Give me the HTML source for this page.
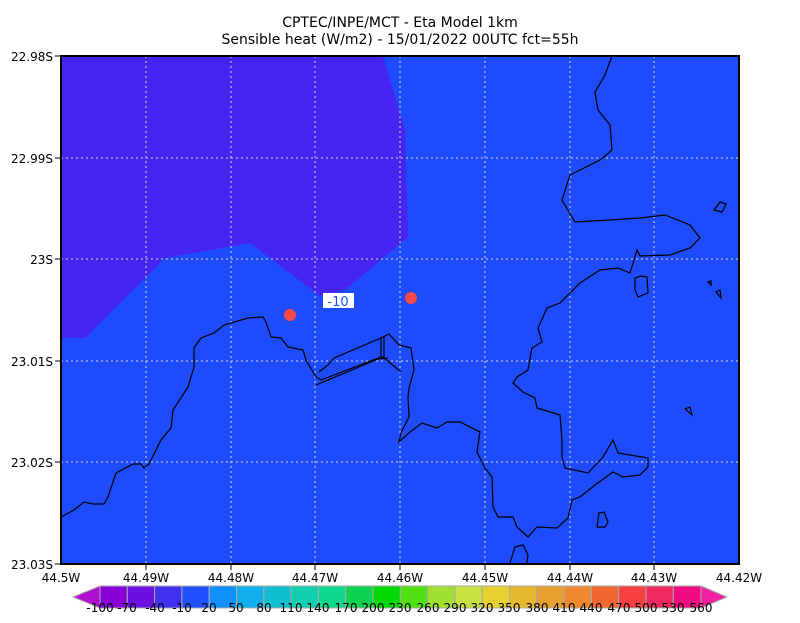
<!DOCTYPE html>
<html><head><style>
body{margin:0;background:#fff;}
svg text{font-family:"DejaVu Sans","Liberation Sans",sans-serif;}
</style></head><body>
<svg width="800" height="618" xmlns="http://www.w3.org/2000/svg">
<rect width="800" height="618" fill="#fff"/>
<text x="400" y="27" font-size="14" text-anchor="middle">CPTEC/INPE/MCT -  Eta Model 1km</text>
<text x="400" y="44" font-size="14" text-anchor="middle">Sensible heat (W/m2) - 15/01/2022 00UTC fct=55h</text>
<rect x="61" y="56" width="678" height="508" fill="#1e4cfc"/>
<polygon points="61,56 383,56 405,130 408,237 345,290 320,296 250,243 165,258 85,338 61,338" fill="#4424ee"/>
<g stroke="#ddd" stroke-dasharray="2,3" stroke-width="1">
<line x1="146" y1="56" x2="146" y2="564"/><line x1="231" y1="56" x2="231" y2="564"/><line x1="315" y1="56" x2="315" y2="564"/><line x1="400" y1="56" x2="400" y2="564"/><line x1="485" y1="56" x2="485" y2="564"/><line x1="570" y1="56" x2="570" y2="564"/><line x1="654" y1="56" x2="654" y2="564"/>
<line x1="61" y1="158" x2="739" y2="158"/><line x1="61" y1="259" x2="739" y2="259"/><line x1="61" y1="361" x2="739" y2="361"/><line x1="61" y1="462" x2="739" y2="462"/>
</g>
<g fill="none" stroke="#000" stroke-width="1.2">
<polyline points="61,517 74,510 84,502 93,504 104,504 108,497 116,473 133,464 141,464 144,468 149,464 161,440 171,428 173,410 188,387 194,367 194,348 201,338 214,333 224,325 248,318 263,317 266,322 271,337 281,338 288,347 303,350 306,360 316,377 321,380"/>
<polyline points="319,372 328,365 334,358 381,338 389,334 399,345 411,348 414,370 409,388 408,397 409,417 401,433 399,442 410,432 422,423 437,428 447,422 460,422 480,432 477,452 485,468 492,477 493,507 498,517 513,517 517,527 528,537 537,527 557,528 568,518 572,500 580,497 595,485 613,472 623,477 640,475 648,467 648,458 618,453 613,440 603,457 588,473 565,468 562,457 562,440 560,415 537,408 535,398 523,392 513,383 517,377 528,370 532,348 542,342 538,328 547,308 560,303 580,283 600,270 618,268 630,273 637,250 640,256 670,255 690,248 700,238 690,225 665,215 640,218 610,220 575,222 562,200 570,175 600,160 612,150 610,125 598,110 595,92 605,75 612,56"/>
<polyline points="321,380 381,357 383,357 401,372"/>
<polyline points="316,385 378,359 388,358"/>
<line x1="381" y1="337" x2="381" y2="357"/><line x1="384" y1="336" x2="384" y2="357"/>
<polyline points="510,563 515,547 523,545 528,555 527,563"/>
<polygon points="597,527 599,513 604,512 608,522 605,527"/>
<polygon points="635,278 641,276 647,277 648,293 638,297 635,290"/>
<polygon points="714,210 720,202 726,204 722,212"/>
<polygon points="685,409 690,407 692,415"/>
<polygon points="716,292 720,290 721,298"/>
<polygon points="708,282 711,281 711,285"/>
</g>
<circle cx="290" cy="315" r="6" fill="#f84848"/>
<circle cx="411" cy="298" r="6" fill="#f84848"/>
<rect x="323" y="293" width="31" height="15" fill="#fff"/>
<text x="338" y="306" font-size="13" fill="#2050ff" text-anchor="middle">-10</text>
<rect x="61" y="56" width="678" height="508" fill="none" stroke="#000" stroke-width="2"/>
<g font-size="12" text-anchor="end">
<text x="53" y="61">22.98S</text><text x="53" y="163">22.99S</text><text x="53" y="264">23S</text><text x="53" y="366">23.01S</text><text x="53" y="467">23.02S</text><text x="53" y="569">23.03S</text>
</g>
<g stroke="#000"><line x1="55" y1="56" x2="61" y2="56"/><line x1="55" y1="158" x2="61" y2="158"/><line x1="55" y1="259" x2="61" y2="259"/><line x1="55" y1="361" x2="61" y2="361"/><line x1="55" y1="462" x2="61" y2="462"/><line x1="55" y1="564" x2="61" y2="564"/>
<line x1="146" y1="564" x2="146" y2="570"/><line x1="231" y1="564" x2="231" y2="570"/><line x1="315" y1="564" x2="315" y2="570"/><line x1="400" y1="564" x2="400" y2="570"/><line x1="485" y1="564" x2="485" y2="570"/><line x1="570" y1="564" x2="570" y2="570"/><line x1="654" y1="564" x2="654" y2="570"/></g>
<g font-size="12" text-anchor="middle">
<text x="61" y="582">44.5W</text><text x="146" y="582">44.49W</text><text x="231" y="582">44.48W</text><text x="315" y="582">44.47W</text><text x="400" y="582">44.46W</text><text x="485" y="582">44.45W</text><text x="570" y="582">44.44W</text><text x="654" y="582">44.43W</text><text x="739" y="582">44.42W</text>
</g>
<polygon points="100,586 73,597 100,608" fill="#b010d0" stroke="#aaa"/>
<polygon points="701,586 727,597 701,608" fill="#f020a0" stroke="#aaa"/>
<g stroke="#aaa" stroke-width="1">
<rect x="100.0" y="586" width="27.3" height="22" fill="#8a00d8"/>
<rect x="127.3" y="586" width="27.3" height="22" fill="#6a10e0"/>
<rect x="154.6" y="586" width="27.3" height="22" fill="#4030f0"/>
<rect x="181.9" y="586" width="27.3" height="22" fill="#2050ff"/>
<rect x="209.2" y="586" width="27.3" height="22" fill="#1090ff"/>
<rect x="236.5" y="586" width="27.3" height="22" fill="#10b0f0"/>
<rect x="263.8" y="586" width="27.3" height="22" fill="#10c0d0"/>
<rect x="291.1" y="586" width="27.3" height="22" fill="#10d0b0"/>
<rect x="318.4" y="586" width="27.3" height="22" fill="#10d890"/>
<rect x="345.7" y="586" width="27.3" height="22" fill="#10d050"/>
<rect x="373.0" y="586" width="27.3" height="22" fill="#00d800"/>
<rect x="400.3" y="586" width="27.3" height="22" fill="#50e010"/>
<rect x="427.6" y="586" width="27.3" height="22" fill="#a0e030"/>
<rect x="454.9" y="586" width="27.3" height="22" fill="#c8e040"/>
<rect x="482.2" y="586" width="27.3" height="22" fill="#e8d030"/>
<rect x="509.5" y="586" width="27.3" height="22" fill="#e8b830"/>
<rect x="536.8" y="586" width="27.3" height="22" fill="#e8a030"/>
<rect x="564.1" y="586" width="27.3" height="22" fill="#f08830"/>
<rect x="591.4" y="586" width="27.3" height="22" fill="#f06830"/>
<rect x="618.7" y="586" width="27.3" height="22" fill="#f84040"/>
<rect x="646.0" y="586" width="27.3" height="22" fill="#f02860"/>
<rect x="673.3" y="586" width="27.7" height="22" fill="#f00c80"/>
</g>
<g font-size="12" text-anchor="middle">
<text x="100" y="612">-100</text><text x="127" y="612">-70</text><text x="155" y="612">-40</text><text x="182" y="612">-10</text><text x="209" y="612">20</text><text x="236" y="612">50</text><text x="264" y="612">80</text><text x="291" y="612">110</text><text x="318" y="612">140</text><text x="346" y="612">170</text><text x="373" y="612">200</text><text x="400" y="612">230</text><text x="428" y="612">260</text><text x="455" y="612">290</text><text x="482" y="612">320</text><text x="509" y="612">350</text><text x="537" y="612">380</text><text x="564" y="612">410</text><text x="591" y="612">440</text><text x="619" y="612">470</text><text x="646" y="612">500</text><text x="673" y="612">530</text><text x="701" y="612">560</text>
</g>
</svg>
</body></html>
